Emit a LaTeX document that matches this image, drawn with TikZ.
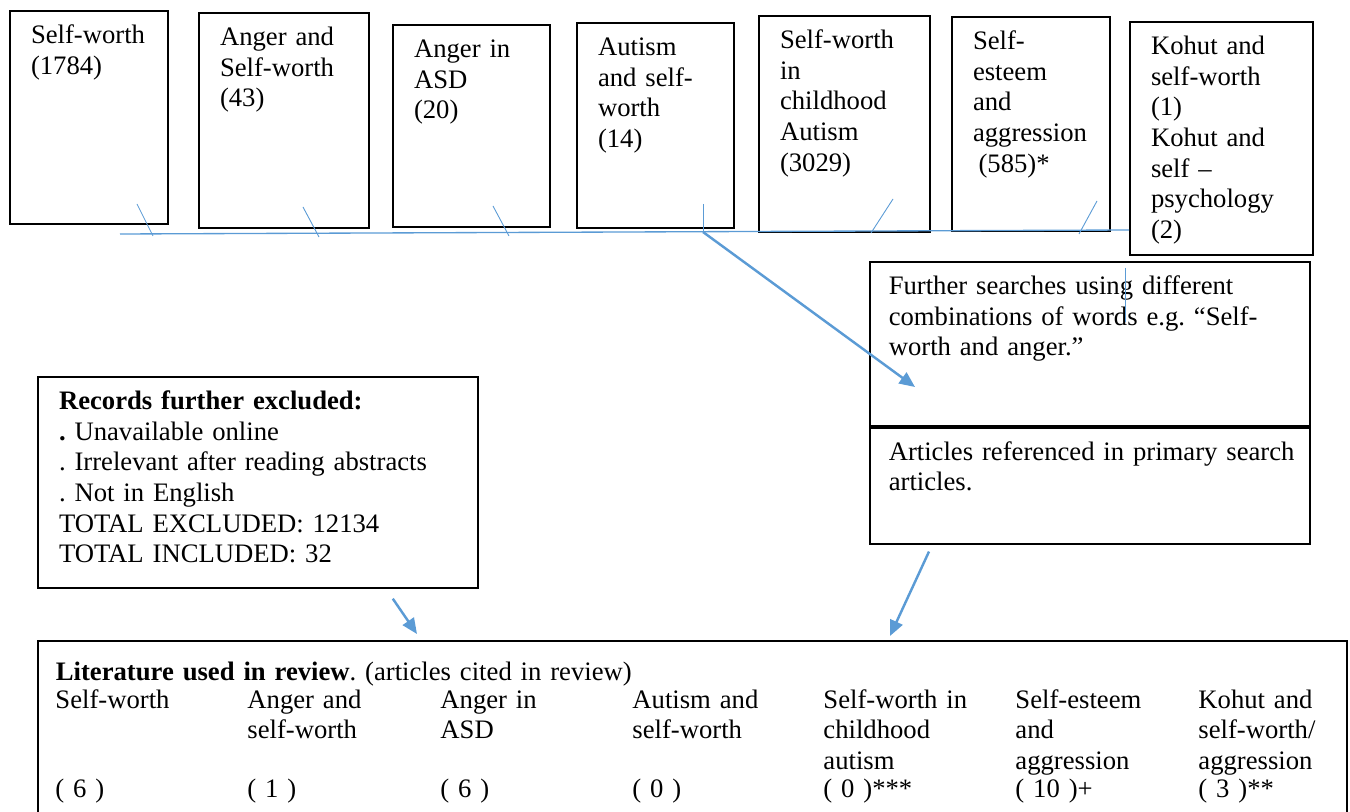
\documentclass[tikz,border=0pt]{standalone}
\usepackage{fontspec}
\setmainfont{Liberation Serif}
\usetikzlibrary{positioning, arrows.meta}
\definecolor{lineblue}{HTML}{5B9BD5}
\frenchspacing

\begin{document}
\begin{tikzpicture}[x=0.45pt, y=-0.45pt, every node/.style={font=\fontsize{12pt}{13.8pt}\selectfont}]

	\tikzstyle{search}=[draw, thick, anchor=north west, align=left, inner xsep=9.5pt, inner ysep=5pt, text height=9.7pt]
	\tikzstyle{column}=[anchor=north west, align=left, inner sep=0pt, text width=85pt, text height=9.7pt]

	\tikzstyle{tick}=[lineblue, line width=0.4pt]
	\tikzstyle{bus}=[lineblue, line width=0.6pt]
	\tikzstyle{flow}=[-{Triangle[length=7pt, width=6pt]}, lineblue, line width=1.1pt]

	\useasboundingbox (0,0) rectangle (1350,812);
	\clip (0,0) rectangle (1350,812);

	% primary searches
	\node[search, text width=52.1pt, text depth=76.2pt] (selfworth) at (9,10) {Self-worth\\(1784)};
	\node[search, text width=57.5pt, text depth=77pt] (angersw) at (198,12) {Anger and\\Self-worth\\(43)};
	\node[search, text width=51.7pt, text depth=71.2pt] (angerasd) at (392,24) {Anger in\\ASD\\(20)};
	\node[search, text width=51.7pt, text depth=72.5pt] (autismsw) at (576,22) {Autism\\and self-\\worth\\(14)};
	\node[search, text width=58pt, text depth=77.5pt] (childaut) at (758,15) {Self-worth\\in\\childhood\\Autism\\(3029)};
	\node[search, text width=52.1pt, text depth=76.6pt] (esteem) at (951,16) {Self-\\esteem\\and\\aggression\\\hspace*{2.5pt}(585)*};
	\node[search, text width=63.4pt, text depth=85.1pt] (kohut) at (1129,21) {Kohut and\\self-worth\\(1)\\Kohut and\\self --\\psychology\\(2)};

	% further searches
	\node[search, inner xsep=8.5pt, text width=181pt, text depth=54.1pt] (further) at (869,261) {Further searches using different\\combinations of words e.g. “Self-\\worth and anger.”};
	\node[search, inner xsep=8.5pt, text width=181pt, text depth=32.5pt, below=0pt of further] (articles) {\mbox{Articles referenced in primary search}\\articles.};

	\node[search, text width=179pt, text depth=75.2pt] (records) at (37,376) {\textbf{Records further excluded:}\\\textbf{.} Unavailable online\\. Irrelevant after reading abstracts\\. Not in English\\TOTAL EXCLUDED: 12134\\TOTAL INCLUDED: 32};

	% review
	\node[search, inner xsep=8.1pt, inner ysep=8.3pt, text width=572.8pt, text depth=59.2pt] (review) at (37,640) {\textbf{Literature used in review}. (articles cited in review)};
	\foreach \x/\topic/\n [count=\i] in {55/Self-worth/( 6 ), 247/{Anger and\\self-worth}/( 1 ), 440/{Anger in\\ASD}/( 6 ), 632/{Autism and\\self-worth}/( 0 ), 823/{Self-worth in\\childhood\\autism}/( 0 )***, 1015/{Self-esteem\\and\\aggression}/( 10 )+, 1198/{Kohut and\\self-worth/\\aggression}/( 3 )**}
	{
		\node[column] (topic\i) at (\x,686) {\topic};
		\node[column] (count\i) at (\x,775) {\n};
	}

	% connectors
	\coordinate (busL) at (120,234);
	\coordinate (busR) at (kohut.west |- 0,230);
	\draw[bus] (busL) -- (busR);
	\foreach \a/\b/\c/\d [count=\i] in {137/204/153/236, 303/207/319/237, 493/206/509/236, 703/204/703/232, 893/199/871/233, 1097/201/1079/234, 1125/268/1125/322}
	{
		\coordinate (t\i) at (\a,\b);
		\coordinate (b\i) at (\c,\d);
		\draw[tick] (t\i) -- (b\i);
	}

	\draw[flow] (b4) -- ([shift={(46,126)}]further.north west);
	\draw[flow] ([shift={(-86,10)}]records.south east) -- ([shift={(380,-6)}]review.north west);
	\draw[flow] ([shift={(60,7)}]articles.south west) -- ([shift={(853,-4)}]review.north west);

\end{tikzpicture}
\end{document}
